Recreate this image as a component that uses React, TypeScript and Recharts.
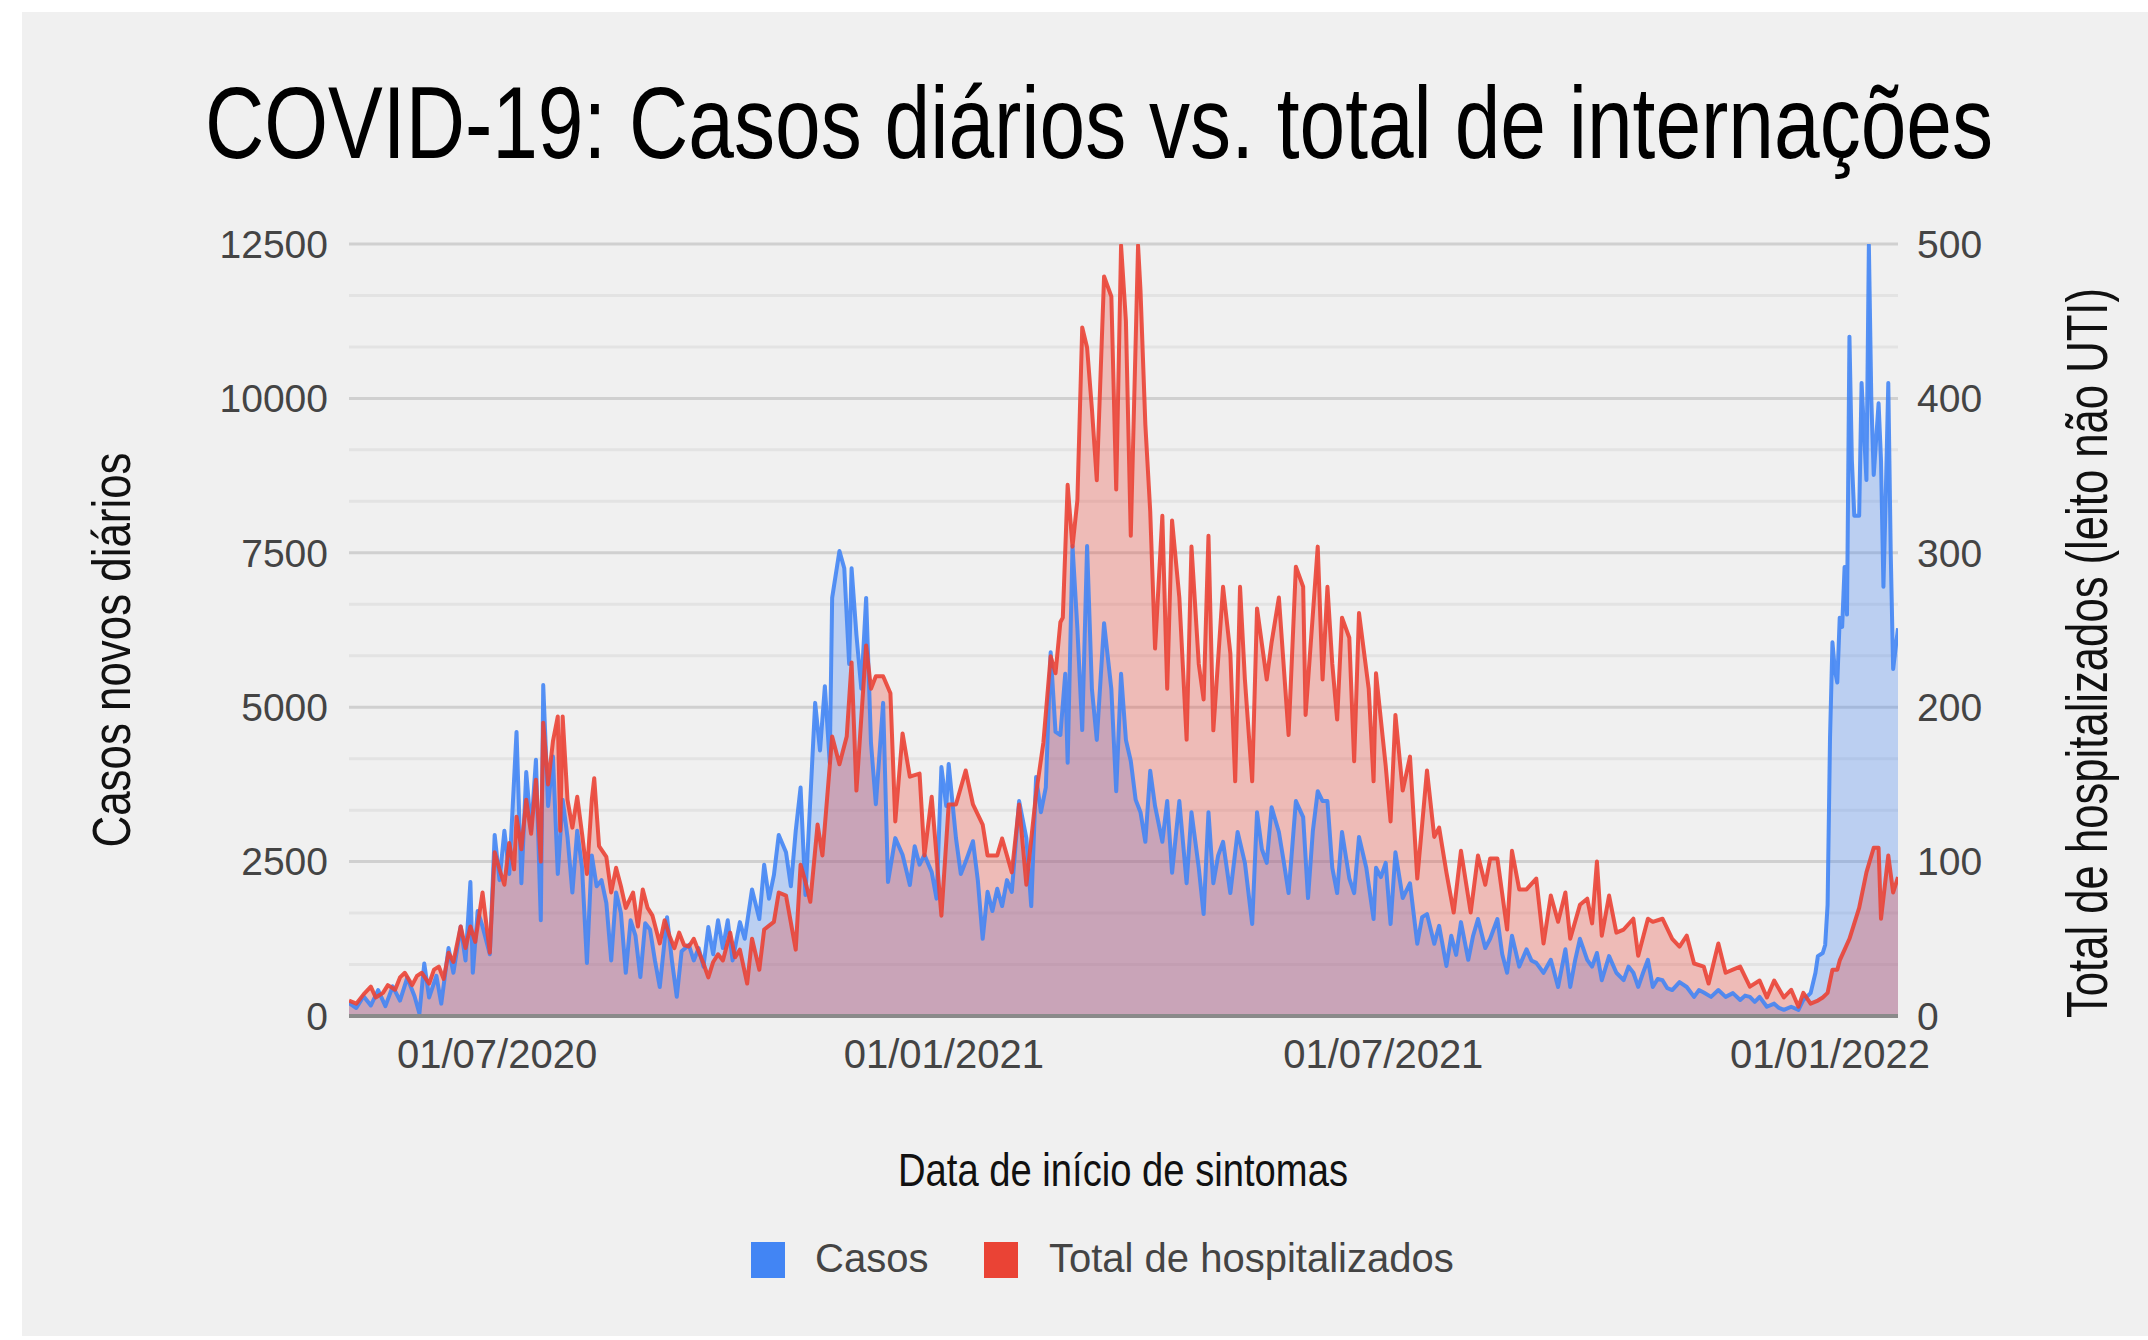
import React from 'react';
import { ComposedChart, Area, Line, XAxis, YAxis, CartesianGrid } from 'recharts';

// Day offsets are counted from 01/05/2020
const inicio = '01/05/2020';

const casosPontos: [number, number][] = [
  [0,210],[3,130],[6,320],[9,170],[12,420],[15,160],[18,480],[21,250],[24,620],[27,320],
  [29,40],[31,850],[33,300],[36,650],[38,200],[41,1100],[43,700],[46,1450],[48,900],[50,2170],
  [51,700],[53,1700],[55,1450],[58,1000],[60,2930],[62,2200],[64,3000],[66,2300],[69,4600],[71,2150],
  [73,3950],[75,3000],[77,4150],[79,1550],[80,5360],[82,3400],[84,4200],[86,2300],[88,3500],[90,2900],
  [92,2000],[94,3000],[96,2400],[98,860],[100,2600],[102,2100],[104,2200],[106,1830],[108,900],[110,2000],
  [112,1670],[114,700],[116,1550],[118,1300],[120,630],[122,1500],[124,1400],[126,900],[128,470],[131,1600],
  [133,900],[135,310],[137,1050],[140,1150],[142,900],[144,1100],[146,800],[148,1440],[150,1000],[152,1550],
  [154,1100],[156,1550],[158,900],[161,1520],[163,1250],[166,2050],[169,1570],[171,2450],[173,1900],[175,2280],
  [177,2930],[180,2650],[182,2100],[184,3000],[186,3700],[188,1960],[190,3500],[192,5070],[194,4300],[196,5340],
  [198,4100],[199,6770],[202,7530],[204,7250],[206,5700],[207,7250],[209,6170],[211,5300],[213,6770],[215,4420],
  [217,3430],[220,5070],[222,2170],[225,2880],[228,2610],[231,2120],[233,2750],[235,2450],[237,2610],[240,2330],
  [242,1900],[244,4030],[246,3400],[247,4080],[250,2880],[252,2300],[254,2500],[257,2830],[259,2200],[261,1250],
  [263,2010],[265,1700],[267,2060],[269,1780],[271,2200],[273,2010],[276,3480],[279,2880],[281,1780],[283,3870],
  [285,3300],[287,3700],[289,5890],[291,4600],[293,4550],[295,5540],[296,4100],[298,7610],[300,6280],[302,4630],
  [304,7610],[306,5290],[308,4470],[311,6360],[314,5290],[316,3640],[318,5540],[320,4470],[322,4130],[324,3500],
  [326,3300],[328,2820],[330,3970],[332,3400],[335,2820],[337,3480],[339,2320],[342,3480],[345,2150],[347,3300],
  [350,2400],[352,1650],[354,3300],[356,2150],[358,2600],[360,2820],[363,1990],[366,2980],[369,2480],[372,1490],
  [374,3300],[376,2700],[378,2480],[380,3380],[383,2980],[385,2500],[387,1990],[390,3480],[393,3220],[395,1910],
  [397,3000],[399,3640],[401,3480],[403,3480],[405,2400],[407,1990],[409,2980],[412,2230],[414,1990],[416,2900],
  [419,2400],[422,1570],[423,2400],[425,2250],[427,2480],[429,1490],[431,2650],[434,1910],[437,2150],[440,1170],
  [442,1600],[444,1650],[447,1170],[449,1460],[452,810],[454,1300],[456,990],[458,1520],[461,910],[463,1300],
  [465,1570],[468,1100],[470,1250],[473,1570],[475,1000],[477,700],[479,1300],[482,800],[485,1080],[487,900],
  [489,860],[492,700],[495,910],[498,470],[501,1080],[503,470],[505,900],[507,1250],[510,910],[512,800],
  [514,1020],[516,580],[519,970],[522,700],[525,580],[527,800],[529,700],[531,470],[533,700],[535,910],
  [537,470],[539,600],[541,580],[543,450],[545,420],[548,550],[551,470],[554,310],[556,420],[558,380],
  [561,310],[564,420],[567,310],[570,370],[573,260],[575,330],[577,310],[579,230],[581,310],[584,150],
  [587,200],[589,130],[591,100],[594,150],[597,100],[599,260],[602,370],[604,700],[605,970],[607,1020],
  [608,1150],[609,1800],[610,4500],[611,6050],[612,5600],[613,5400],[614,6450],[615,6300],[616,7270],[617,6500],
  [618,11000],[619,9000],[620,8100],[622,8100],[623,10250],[625,8680],[626,12480],[627,10000],[628,8760],[630,9920],
  [631,9000],[632,6950],[633,8500],[634,10250],[635,7500],[636,5620],[638,6280],
];

const hospPontos: [number, number][] = [
  [0,10],[3,8],[6,14],[9,19],[11,12],[14,15],[16,20],[19,17],[21,25],[23,28],
  [26,20],[28,26],[30,28],[33,21],[35,30],[37,32],[39,24],[41,41],[43,35],[46,58],
  [48,44],[50,58],[52,48],[55,80],[58,41],[60,106],[62,95],[64,85],[66,112],[68,95],
  [69,129],[71,108],[73,140],[75,118],[77,153],[79,100],[80,190],[82,150],[84,178],[86,194],
  [87,120],[88,194],[90,140],[92,122],[94,142],[96,118],[98,92],[100,140],[101,154],[103,110],
  [106,103],[108,80],[110,96],[112,84],[114,70],[117,80],[119,58],[121,82],[123,70],[125,65],
  [128,47],[130,62],[132,52],[134,44],[136,54],[138,46],[140,45],[142,50],[144,42],[146,34],
  [148,25],[150,35],[152,40],[154,36],[157,54],[159,38],[161,43],[164,21],[166,50],[169,30],
  [171,56],[175,61],[177,80],[180,78],[184,43],[186,98],[188,87],[190,74],[193,124],[195,104],
  [199,181],[202,163],[205,181],[207,229],[209,146],[213,240],[215,212],[217,220],[220,220],[223,209],
  [225,126],[228,183],[231,155],[235,157],[237,104],[240,142],[244,65],[247,137],[250,137],[254,159],
  [257,137],[261,124],[263,104],[267,104],[269,115],[273,93],[276,137],[279,85],[283,144],[286,177],
  [289,233],[291,222],[293,255],[294,258],[296,344],[298,304],[300,334],[302,446],[304,433],[306,393],
  [308,347],[311,479],[314,466],[316,341],[318,499],[320,450],[322,311],[325,499],[326,470],[328,383],
  [330,327],[332,238],[335,324],[337,212],[339,321],[342,271],[345,179],[347,304],[350,228],[352,205],
  [354,311],[356,185],[360,278],[363,235],[365,152],[367,278],[369,218],[372,152],[374,264],[378,218],
  [380,242],[383,271],[387,182],[390,291],[393,278],[394,195],[399,304],[401,218],[403,278],[405,228],
  [407,192],[409,258],[412,245],[414,165],[416,261],[420,212],[422,152],[423,222],[427,162],[429,126],
  [431,195],[434,146],[437,168],[440,89],[444,159],[447,116],[449,122],[452,93],[455,67],[458,107],
  [462,67],[465,104],[468,85],[470,102],[473,102],[477,56],[479,107],[482,82],[485,82],[489,89],
  [492,47],[495,78],[498,61],[501,80],[503,50],[507,72],[510,76],[512,60],[514,100],[516,52],
  [519,78],[522,54],[525,56],[529,63],[531,39],[535,63],[537,61],[541,63],[545,50],[548,45],
  [551,52],[554,34],[558,32],[560,21],[564,47],[567,28],[570,30],[573,32],[577,19],[581,23],
  [584,12],[587,23],[591,12],[594,17],[597,6],[599,15],[602,8],[605,10],[607,12],[609,15],
  [611,30],[613,30],[614,36],[616,43],[618,50],[620,60],[622,70],[625,93],[628,109],[630,109],
  [631,63],[634,104],[636,80],[638,90],
];

const rotulosX = ['01/07/2020', '01/01/2021', '01/07/2021', '01/01/2022'];
const ticksCasos = [0, 2500, 5000, 7500, 10000, 12500];
const ticksHosp = [0, 100, 200, 300, 400, 500];
const dominioDias: [number, number] = [0, 638];

const titulo = 'COVID-19: Casos diários vs. total de internações';
const tituloEixoX = 'Data de início de sintomas';
const tituloEixoEsq = 'Casos novos diários';
const tituloEixoDir = 'Total de hospitalizados (leito não UTI)';
const nomeCasos = 'Casos';
const nomeHosp = 'Total de hospitalizados';

const AZUL = '#4285f4';
const VERMELHO = '#ea4335';
const FONTE = '"Liberation Sans", Arial, Helvetica, sans-serif';

const paraData = (s: string) => {
  const [d, m, y] = s.split('/').map(Number);
  return Date.UTC(y, m - 1, d);
};
const diaDe = (s: string) => Math.round((paraData(s) - paraData(inicio)) / 86400000);
const ticksX = rotulosX.map(diaDe);
const rotuloDe = (v: number) => {
  const i = ticksX.indexOf(v);
  return i >= 0 ? rotulosX[i] : '';
};

// minor gridlines: two between each pair of major ticks
const linhasMenores: number[] = [];
for (let i = 0; i < ticksCasos.length - 1; i++) {
  const a = ticksCasos[i];
  const b = ticksCasos[i + 1];
  linhasMenores.push(a + (b - a) / 3, a + (2 * (b - a)) / 3);
}

// condensed text: horizontal squeeze via transform, exact length via textLength
function TextoEstreito(props: {
  x: number; y: number; rot?: boolean; size: number; scale: number; length: number;
  anchor?: 'start' | 'middle'; fill?: string; children: string;
}) {
  const { x, y, rot, size, scale, length, anchor = 'middle', fill = '#111', children } = props;
  const t = rot
    ? `translate(${x},${y}) rotate(-90) scale(${scale},1)`
    : `translate(${x},${y}) scale(${scale},1)`;
  return (
    <text
      transform={t}
      textAnchor={anchor}
      fontSize={size}
      fontFamily={FONTE}
      fill={fill}
      textLength={length / scale}
      lengthAdjust="spacingAndGlyphs"
    >
      {children}
    </text>
  );
}

export default function App() {
  const mapaC = new Map<number, number>(casosPontos);
  const mapaH = new Map<number, number>(hospPontos);
  const dias = Array.from(
    new Set<number>([...casosPontos.map((p) => p[0]), ...hospPontos.map((p) => p[0])])
  ).sort((a, b) => a - b);
  const dados = dias.map((d) => ({
    dia: d,
    casos: mapaC.has(d) ? mapaC.get(d) : null,
    hosp: mapaH.has(d) ? mapaH.get(d) : null,
  }));

  const tickEstilo = { fontSize: 39, fill: '#444', fontFamily: FONTE };

  return (
    <div style={{ position: 'absolute', left: 0, top: 0, width: 2148, height: 1340, background: '#ffffff' }}>
      <div style={{ position: 'absolute', left: 22, top: 12, width: 2126, height: 1324, background: '#f0f0f0' }} />
      <div style={{ position: 'absolute', left: 0, top: 0 }}>
        <ComposedChart
          width={2148}
          height={1340}
          data={dados}
          margin={{ top: 244, right: 150, bottom: 264, left: 249 }}
        >
          <CartesianGrid
            yAxisId="left"
            vertical={false}
            horizontalValues={linhasMenores}
            stroke="#e3e3e3"
            strokeWidth={3}
          />
          <CartesianGrid
            yAxisId="left"
            vertical={false}
            horizontalValues={ticksCasos}
            stroke="#d0d0d0"
            strokeWidth={3}
          />
          <XAxis
            dataKey="dia"
            type="number"
            domain={dominioDias}
            ticks={ticksX}
            tickFormatter={rotuloDe}
            height={60}
            tickLine={false}
            tickSize={0}
            tickMargin={24}
            axisLine={{ stroke: '#8a8a8a', strokeWidth: 4 }}
            tick={{ fontSize: 40, fill: '#444', fontFamily: FONTE }}
            interval={0}
            allowDataOverflow
          />
          <YAxis
            yAxisId="left"
            orientation="left"
            width={100}
            domain={[0, 12500]}
            ticks={ticksCasos}
            tickLine={false}
            tickSize={0}
            tickMargin={21}
            axisLine={false}
            tick={tickEstilo}
            interval={0}
            allowDataOverflow
          />
          <YAxis
            yAxisId="right"
            orientation="right"
            width={100}
            domain={[0, 500]}
            ticks={ticksHosp}
            tickLine={false}
            tickSize={0}
            tickMargin={19}
            axisLine={false}
            tick={{ ...tickEstilo, textAnchor: 'start' }}
            interval={0}
            allowDataOverflow
          />
          <Area
            yAxisId="left"
            dataKey="casos"
            name={nomeCasos}
            type="linear"
            stroke="none"
            fill={AZUL}
            fillOpacity={0.3}
            connectNulls
            isAnimationActive={false}
            dot={false}
            activeDot={false}
          />
          <Area
            yAxisId="right"
            dataKey="hosp"
            name={nomeHosp}
            type="linear"
            stroke="none"
            fill={VERMELHO}
            fillOpacity={0.3}
            connectNulls
            isAnimationActive={false}
            dot={false}
            activeDot={false}
          />
          <Line
            yAxisId="left"
            dataKey="casos"
            name={nomeCasos}
            type="linear"
            stroke={AZUL}
            strokeWidth={4}
            strokeOpacity={0.9}
            strokeLinejoin="round"
            connectNulls
            dot={false}
            activeDot={false}
            isAnimationActive={false}
            legendType="none"
          />
          <Line
            yAxisId="right"
            dataKey="hosp"
            name={nomeHosp}
            type="linear"
            stroke={VERMELHO}
            strokeWidth={4}
            strokeOpacity={0.9}
            strokeLinejoin="round"
            connectNulls
            dot={false}
            activeDot={false}
            isAnimationActive={false}
            legendType="none"
          />
        </ComposedChart>
      </div>
      <svg
        width={2148}
        height={1340}
        style={{ position: 'absolute', left: 0, top: 0, pointerEvents: 'none' }}
      >
        <TextoEstreito x={205} y={158} size={102} scale={0.805} length={1788} anchor="start" fill="#000">
          {titulo}
        </TextoEstreito>
        <TextoEstreito x={130} y={650} rot size={54} scale={0.813} length={395}>
          {tituloEixoEsq}
        </TextoEstreito>
        <TextoEstreito x={2107} y={653} rot size={58} scale={0.747} length={730}>
          {tituloEixoDir}
        </TextoEstreito>
        <TextoEstreito x={1123} y={1186} size={47} scale={0.817} length={450}>
          {tituloEixoX}
        </TextoEstreito>
        <rect x={751} y={1242} width={34} height={36} fill={AZUL} />
        <text x={815} y={1272} fontSize={40} fontFamily={FONTE} fill="#444">
          {nomeCasos}
        </text>
        <rect x={984} y={1242} width={34} height={36} fill={VERMELHO} />
        <text x={1049} y={1272} fontSize={40} fontFamily={FONTE} fill="#444">
          {nomeHosp}
        </text>
      </svg>
    </div>
  );
}
